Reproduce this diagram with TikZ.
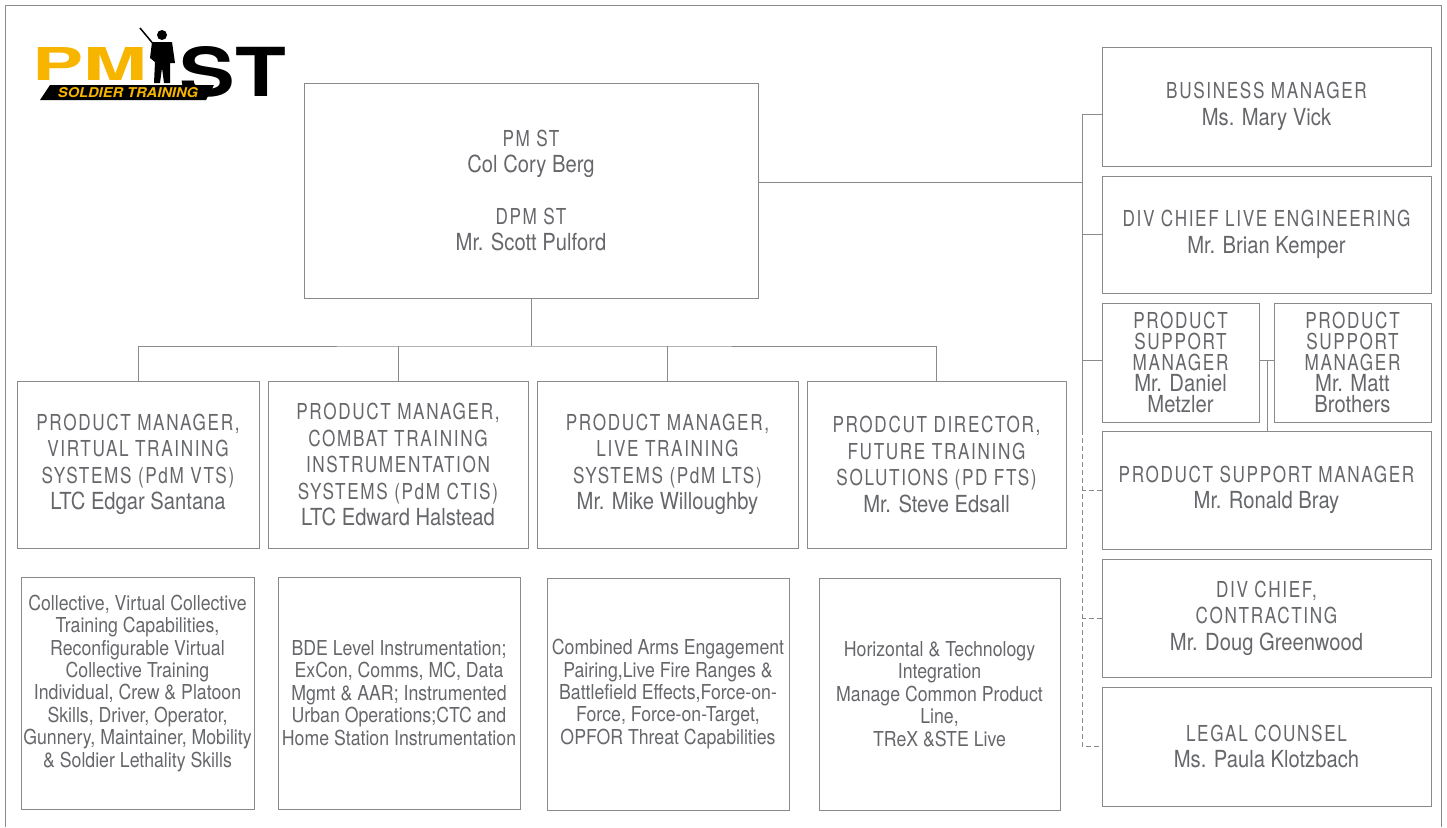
\documentclass[tikz,border=0pt]{standalone}
\usepackage{tikz}
\usepackage{fontspec, graphicx}
\setmainfont{TeX Gyre Heros}
\newfontfamily\namefam[FakeStretch=0.86]{TeX Gyre Heros}
\newfontfamily\ttlfam[FakeStretch=0.78,LetterSpace=7.5]{TeX Gyre Heros}
\newcommand\namefont{\namefam\fontsize{23.5pt}{26.5pt}\selectfont}
\newcommand\psmfont{\namefam\fontsize{23.5pt}{21pt}\selectfont\lineskiplimit=-30pt}
\newcommand\descfont{\namefam\fontsize{20.6pt}{22.4pt}\selectfont\lineskiplimit=-30pt}
\newcommand\ttl{\ttlfam\fontsize{22pt}{26.5pt}\selectfont}
\definecolor{txtgray}{RGB}{102,103,107}
\definecolor{linegray}{RGB}{138,138,138}
\definecolor{logoyellow}{RGB}{247,181,0}

\begin{document}
\begin{tikzpicture}[x=1pt,y=-1pt,
		orgbox/.style={draw=linegray,line width=1pt,inner sep=0pt,align=center,text=txtgray,font=\namefont},
		descbox/.style={orgbox,font=\descfont},
		solidline/.style={draw=linegray,line width=1pt},
		dashline/.style={solidline,dash pattern=on 5pt off 3pt}]
		\useasboundingbox (0,0) rectangle (1447,827);
		\draw[solidline] (5,827) -- (5,5) -- (1441,5) -- (1441,827);
		% logo
		\fill (40,100) -- (50,85) -- (214,85) -- (206,100) -- cycle;
		\node[inner sep=0pt,text=logoyellow] (pmlogo) at (89.5,64) {\resizebox{115pt}{33pt}{\bfseries PM}};
		\node[inner sep=0pt] (stlogo) at (233,72) {\resizebox{106pt}{50pt}{\bfseries ST}};
		\node[inner sep=0pt,text=logoyellow] (sttext) at (128,92.5) {\resizebox{140pt}{10pt}{\bfseries\itshape SOLDIER TRAINING}};
		\fill (162,35) circle (5);
		\fill (152,42) -- (172,42) -- (175,63) -- (170,63) -- (170,83) -- (164,83) -- (162,68) -- (160,83) -- (154,83) -- (155,62) -- (150,58) -- cycle;
		\draw[line width=1.5pt] (140,28) -- (160,52);
		% top
		\node[orgbox,minimum width=454pt,minimum height=215pt] (pmst) at (531,190.5) {\ttl PM ST\\Col Cory Berg\\[25pt]\ttl DPM ST\\Mr. Scott Pulford};
		% staff column
		\node[orgbox,minimum width=329pt,minimum height=119pt] (busmgr) at (1266.5,106.5) {\ttl BUSINESS MANAGER\\Ms. Mary Vick};
		\node[orgbox,minimum width=329pt,minimum height=117pt] (liveeng) at (1266.5,234.5) {\ttl DIV CHIEF LIVE ENGINEERING\\Mr. Brian Kemper};
		\node[orgbox,font=\psmfont,minimum width=157pt,minimum height=119pt] (psmdaniel) at (1180.5,362.5) {\ttl PRODUCT\\\ttl SUPPORT\\\ttl MANAGER\\Mr. Daniel\\Metzler};
		\node[orgbox,font=\psmfont,minimum width=157pt,minimum height=119pt] (psmmatt) at (1352.5,362.5) {\ttl PRODUCT\\\ttl SUPPORT\\\ttl MANAGER\\Mr. Matt\\Brothers};
		\node[orgbox,minimum width=329pt,minimum height=118pt] (psmbray) at (1266.5,490) {\ttl PRODUCT SUPPORT MANAGER\\Mr. Ronald Bray};
		\node[orgbox,minimum width=329pt,minimum height=118pt] (contract) at (1266.5,618) {\ttl DIV CHIEF,\\\ttl CONTRACTING\\Mr. Doug Greenwood};
		\node[orgbox,minimum width=329pt,minimum height=119pt] (legal) at (1266.5,746.5) {\ttl LEGAL COUNSEL\\Ms. Paula Klotzbach};
		% product offices
		\node[orgbox,minimum width=242pt,minimum height=167pt] (vts) at (138,464.5) {\ttl PRODUCT MANAGER,\\\ttl VIRTUAL TRAINING\\\ttl SYSTEMS (PdM VTS)\\LTC Edgar Santana};
		\node[orgbox,minimum width=260pt,minimum height=167pt] (ctis) at (398,464.5) {\ttl PRODUCT MANAGER,\\\ttl COMBAT TRAINING\\\ttl INSTRUMENTATION\\\ttl SYSTEMS (PdM CTIS)\\LTC Edward Halstead};
		\node[orgbox,minimum width=261pt,minimum height=167pt] (lts) at (667.5,464.5) {\ttl PRODUCT MANAGER,\\\ttl LIVE TRAINING\\\ttl SYSTEMS (PdM LTS)\\Mr. Mike Willoughby};
		\node[orgbox,minimum width=259pt,minimum height=167pt] (fts) at (936.5,464.5) {\ttl PRODCUT DIRECTOR,\\\ttl FUTURE TRAINING\\\ttl SOLUTIONS (PD FTS)\\Mr. Steve Edsall};
		% portfolios
		\node[descbox,text depth=24pt,minimum width=233pt,minimum height=232pt] (vtsdesc) at (137.5,693) {Collective, Virtual Collective\\Training Capabilities,\\Reconfigurable Virtual\\Collective Training\\Individual, Crew \& Platoon\\Skills, Driver, Operator,\\Gunnery, Maintainer, Mobility\\\& Soldier Lethality Skills};
		\node[descbox,minimum width=242pt,minimum height=232pt] (ctisdesc) at (399,693) {BDE Level Instrumentation;\\ExCon, Comms, MC, Data\\Mgmt \& AAR; Instrumented\\Urban Operations;CTC and\\Home Station Instrumentation};
		\node[descbox,minimum width=242pt,minimum height=232pt] (ltsdesc) at (668,694) {Combined Arms Engagement\\Pairing,Live Fire Ranges \&\\Battlefield Effects,Force-on-\\Force, Force-on-Target,\\OPFOR Threat Capabilities};
		\node[descbox,minimum width=241pt,minimum height=232pt] (ftsdesc) at (939.5,694) {Horizontal \& Technology\\Integration\\Manage Common Product\\Line,\\TReX \&STE Live};
		% lines
		\coordinate (bus) at (531,346);
		\coordinate (spinebot) at (1082,430);
		\coordinate (psmjoin) at (1267,360);
		\draw[solidline] (pmst.south) -- (bus);
		\draw[solidline] (vts.north) |- (bus) -| (fts.north);
		\draw[solidline] (ctis.north) -- (ctis.north |- bus);
		\draw[solidline] (lts.north) -- (lts.north |- bus);
		\draw[solidline] ([yshift=8.5pt]pmst.east) -- ([yshift=8.5pt]pmst.east -| spinebot);
		\draw[solidline] ([yshift=-7.5pt]busmgr.west) -| (spinebot);
		\draw[solidline] (liveeng.west) -- (liveeng.west -| spinebot);
		\draw[solidline] ([yshift=2.5pt]psmdaniel.west) -- ([yshift=2.5pt]psmdaniel.west -| spinebot);
		\draw[solidline] ([yshift=2.5pt]psmdaniel.east) -- ([yshift=2.5pt]psmmatt.west);
		\draw[solidline] (psmjoin) -- (psmjoin |- psmbray.north);
		\draw[dashline] (spinebot) |- (legal.west);
		\draw[dashline] (psmbray.west) -- (psmbray.west -| spinebot);
		\draw[dashline] (contract.west) -- (contract.west -| spinebot);
		\end{tikzpicture}
\end{document}
